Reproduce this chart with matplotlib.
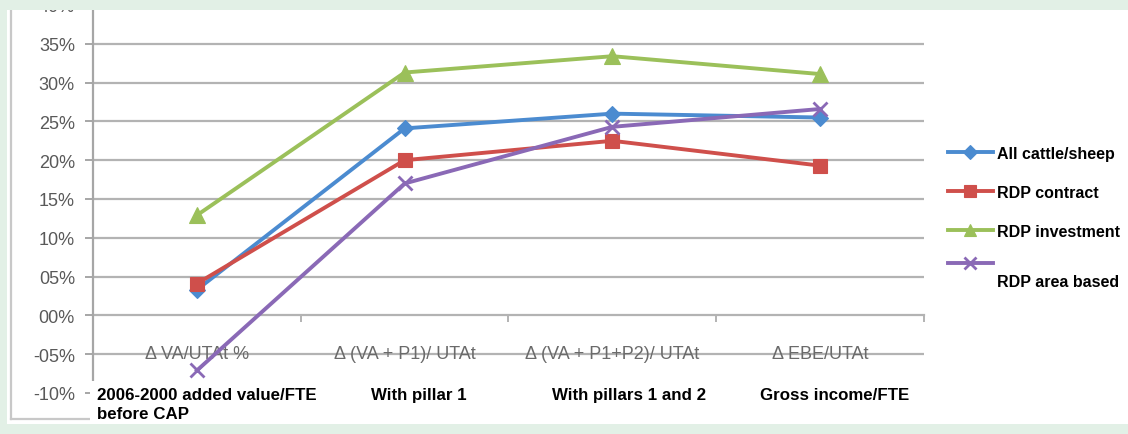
import matplotlib
matplotlib.use("Agg")
import matplotlib.pyplot as plt
from matplotlib.patches import Rectangle
from matplotlib.lines import Line2D
from matplotlib.ticker import FixedLocator, FuncFormatter
from matplotlib.transforms import Affine2D

# ---------------- data ----------------
category_codes = ["\u0394 VA/UTAt %", "\u0394 (VA + P1)/ UTAt",
                  "\u0394 (VA + P1+P2)/ UTAt", "\u0394 EBE/UTAt"]
category_descriptions = ["2006-2000 added value/FTE\nbefore CAP", "With pillar 1",
                         "With pillars 1 and 2", "Gross income/FTE"]
series_names = ["All cattle/sheep", "RDP contract", "RDP investment", "RDP area based"]
all_cattle_sheep = [3.3, 24.1, 26.0, 25.5]
rdp_contract = [4.1, 20.0, 22.5, 19.3]
rdp_investment = [12.9, 31.3, 33.4, 31.1]
rdp_area_based = [-7.1, 17.0, 24.3, 26.6]
y_ticks = [-10, -5, 0, 5, 10, 15, 20, 25, 30, 35, 40]

# ---------------- layout ----------------
W, H = 1128, 435
fig = plt.figure(figsize=(W / 100, H / 100), dpi=100)
fig.patch.set_facecolor("white")

def px_rect(x0, y0, x1, y1):
    return [x0 / W, 1 - y1 / H, (x1 - x0) / W, (y1 - y0) / H]

ax = fig.add_axes(px_rect(93, 6, 924, 394))
ax.set_facecolor("white")
ax.set_xlim(-0.5, 3.5)
ax.set_ylim(-10, 40)

grid_color = "#b3b3b3"
for y in y_ticks:
    if y in (0, -10):
        continue
    ax.axhline(y, color=grid_color, lw=1.6, zorder=1)

# y axis
for s in ("top", "right"):
    ax.spines[s].set_visible(False)
ax.spines["left"].set_color("#a6a6a6")
ax.spines["left"].set_linewidth(1.6)
ax.spines["bottom"].set_position(("data", 0))
ax.spines["bottom"].set_color(grid_color)
ax.spines["bottom"].set_linewidth(1.6)
ax.spines["bottom"].set_zorder(1)

ax.yaxis.set_major_locator(FixedLocator(y_ticks))
ax.yaxis.set_major_formatter(FuncFormatter(
    lambda v, p: ("-" if v < 0 else "") + f"{abs(int(round(v))):02d}%"))
ax.tick_params(axis="y", direction="out", length=6, width=1.4, color="#a6a6a6",
               labelcolor="#595959", labelsize=13, pad=7)
for lab in ax.get_yticklabels():
    lab.set_family("Liberation Sans")

# x axis: tick marks at category boundaries, labels at centres
ax.set_xticks([-0.5, 0.5, 1.5, 2.5, 3.5])
ax.set_xticklabels([""] * 5)
ax.tick_params(axis="x", which="major", direction="out", length=5, width=1.4,
               color=grid_color)
ax.set_xticks(range(len(category_codes)), minor=True)
ax.set_xticklabels(category_codes, minor=True, family="Liberation Sans",
                   fontsize=13, color="#6a6a6a")
ax.tick_params(axis="x", which="minor", length=0, pad=21)
for lab in ax.get_xticklabels(minor=True):
    lab.set_zorder(0.5)

# series
x = list(range(len(category_codes)))
styles = [
    (all_cattle_sheep, "#4b8bd0", "D", 8.5, None),
    (rdp_contract, "#cf4f4b", "s", 10, None),
    (rdp_investment, "#9bc05a", "^", 11, None),
    (rdp_area_based, "#8a69b6", "x", 10, 2.0),
]
handles = []
for (vals, col, mk, ms, mew), name in zip(styles, series_names):
    ln, = ax.plot(x, vals, color=col, lw=2.8, marker=mk, markersize=ms,
                  markeredgewidth=mew if mew else 0.8, markeredgecolor=col,
                  markerfacecolor=col, zorder=3, label=name)
    handles.append(ln)

# ---------------- frame decorations ----------------
green = "#e2f0e6"
outline = "#c8c8c8"
fig.add_artist(Line2D([11 / W, 11 / W], [1 - 11 / H, 1 - 420 / H],
                      color=outline, lw=1.6, zorder=5))
fig.add_artist(Line2D([11 / W, 90 / W], [1 - 420 / H, 1 - 420 / H],
                      color=outline, lw=1.6, zorder=5))
fig.add_artist(Rectangle((90 / W, 1 - 432 / H), (W - 90) / W, (432 - 382) / H,
                         transform=fig.transFigure, facecolor="white",
                         edgecolor="none", zorder=6))
fig.add_artist(Rectangle((0, 1 - 11 / H), 1, 11 / H, transform=fig.transFigure,
                         facecolor=green, edgecolor="none", zorder=7))
fig.add_artist(Rectangle((0, 0), 7 / W, 1, transform=fig.transFigure,
                         facecolor=green, edgecolor="none", zorder=7))
fig.add_artist(Rectangle((0, 0), 90 / W, 1 - 425 / H, transform=fig.transFigure,
                         facecolor=green, edgecolor="none", zorder=7))
fig.add_artist(Rectangle((0, 0), 1, 1 - 432 / H, transform=fig.transFigure,
                         facecolor=green, edgecolor="none", zorder=7))
fig.add_artist(Rectangle((90 / W, 1 - 432 / H), 1, 7 / H, transform=fig.transFigure,
                         facecolor=green, edgecolor="none", zorder=7))

# bold category descriptions
desc_pos = [(97, 388, "left"), (419, 388, "center"), (629, 388, "center"),
            (835, 388, "center")]
for text, (px, py, ha) in zip(category_descriptions, desc_pos):
    fig.text(px / W, 1 - py / H, text, ha=ha, va="top", fontsize=12.2,
             fontweight="bold", family="Liberation Sans", color="black",
             linespacing=1.35, zorder=8)

# legend
leg = fig.legend(handles, series_names, loc="upper left",
                 bbox_to_anchor=(948 / W, 1 - 147 / H), frameon=False,
                 borderpad=0, borderaxespad=0, handlelength=2.8,
                 handletextpad=0.25, labelspacing=1.5, markerscale=0.85,
                 prop={"family": "Liberation Sans", "weight": "bold", "size": 11.5})
leg.set_zorder(8)
# last entry: marker line sits higher and its label lower, as in the original
t4 = leg.get_texts()[3]
t4.set_transform(t4.get_transform() + Affine2D().translate(0, -11))
h4 = leg.legend_handles[3]
h4.set_transform(h4.get_transform() + Affine2D().translate(0, 6))

fig.savefig("out.png", dpi=100)
